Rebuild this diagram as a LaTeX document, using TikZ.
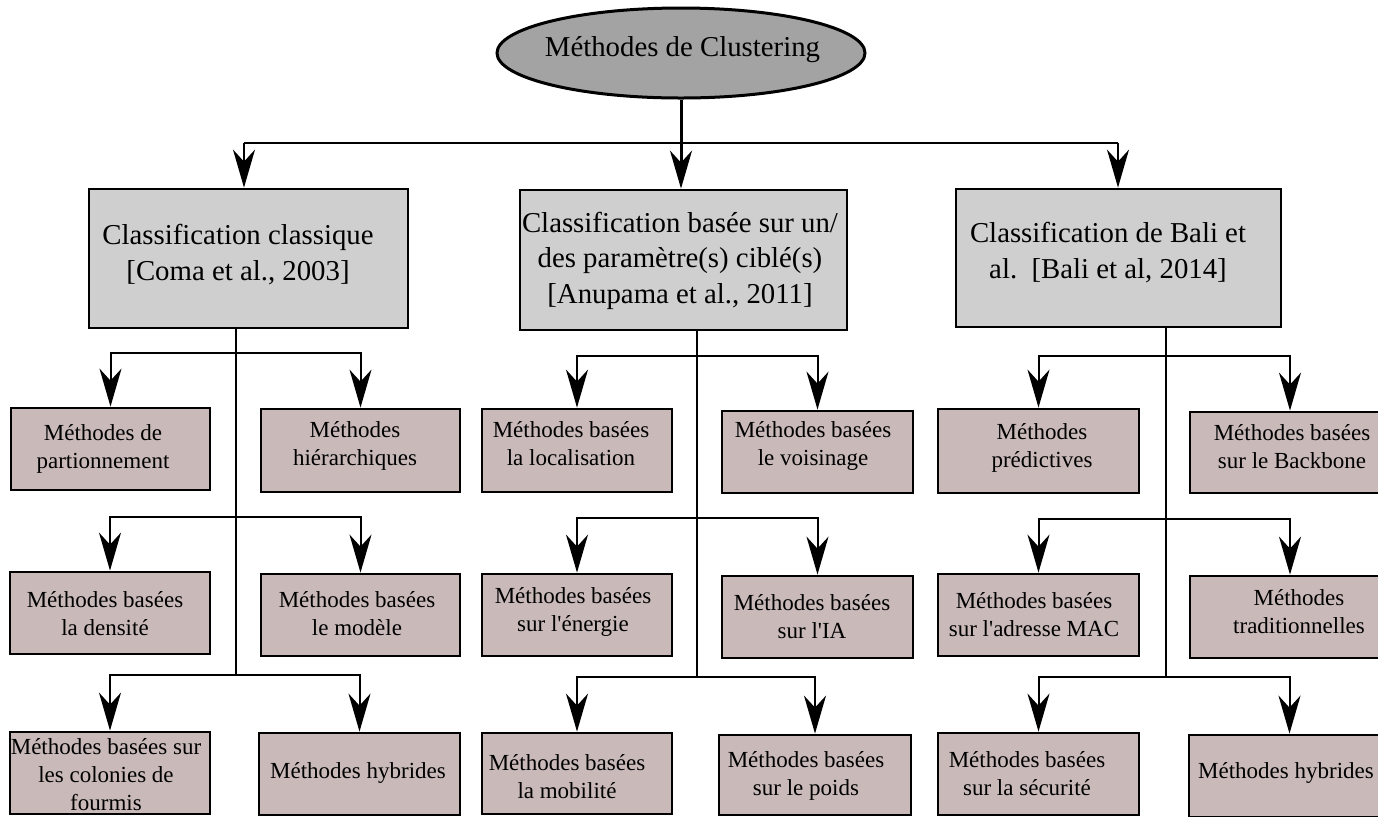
\documentclass[tikz,border=0pt]{standalone}
\usepackage{fontspec}
\setmainfont{Liberation Serif}
\usetikzlibrary{shapes.geometric,arrows.meta}
\definecolor{rootgray}{RGB}{163,163,163}
\definecolor{classgray}{RGB}{207,207,207}
\definecolor{methrose}{RGB}{201,185,185}
\begin{document}
\begin{tikzpicture}[x=0.5pt,y=-0.5pt,
  rootshape/.style={ellipse, draw, line width=1.5pt, fill=rootgray, minimum width=184pt, minimum height=45pt, inner sep=0pt},
  classbox/.style={rectangle, draw, line width=1.4pt, fill=classgray, inner sep=0pt},
  methbox/.style={rectangle, draw, line width=1.4pt, fill=methrose, inner sep=0pt},
  roottxt/.style={font=\fontsize{14.4pt}{17.7pt}\selectfont, inner sep=0pt, anchor=base},
  bigtxt/.style={font=\fontsize{14.4pt}{17.7pt}\selectfont, align=center, inner sep=0pt, anchor=base},
  smalltxt/.style={font=\fontsize{11.5pt}{14pt}\selectfont, align=center, inner sep=0pt, anchor=base},
  arr/.style={-{Stealth[length=19pt,width=11pt,inset=6pt]}, line width=1pt},
  trunk/.style={line width=1.4pt},
  branch/.style={line width=1pt},
  toprule/.style={line width=0.8pt},
]
\useasboundingbox (0,0) rectangle (1378,816);
\fill[white] (0,0) rectangle (1378,816);
\clip (0,0) rectangle (1378,816);

% root
\node[rootshape] (root) at (681,53) {};
\node[roottxt] (troot) at (682.5,56) {Méthodes de Clustering};

% three classification families (labels placed by their last baseline)
\node[classbox, minimum width=159.5pt, minimum height=69.5pt] (b1) at (248.5,258.5) {};
\node[classbox, minimum width=163.5pt, minimum height=70pt]   (b2) at (683.5,260) {};
\node[classbox, minimum width=162.5pt, minimum height=69pt]   (b3) at (1118.5,258) {};
\node[bigtxt] (tb1) at (238,280) {Classification classique\\{[}Coma et al., 2003{]}};
\node[bigtxt] (tb2) at (680,303) {Classification basée sur un/\\des paramètre(s) ciblé(s)\\{[}Anupama et al., 2011{]}};
\node[bigtxt] (tb3) at (1108,278) {Classification de Bali et\\al.~~{[}Bali et al, 2014{]}};

% methods, first family
\node[methbox, minimum width=99.5pt,  minimum height=41pt]   (p11) at (110.5,449) {};
\node[methbox, minimum width=99.5pt,  minimum height=41.5pt] (p12) at (360.5,450.5) {};
\node[methbox, minimum width=100pt,   minimum height=41pt]   (p13) at (110,613) {};
\node[methbox, minimum width=99.5pt,  minimum height=41pt]   (p14) at (360.5,615) {};
\node[methbox, minimum width=100pt,   minimum height=41pt]   (p15) at (110,773) {};
\node[methbox, minimum width=100.5pt, minimum height=41pt]   (p16) at (359.5,774) {};

% methods, second family
\node[methbox, minimum width=95pt,  minimum height=41.5pt] (q11) at (577,450.5) {};
\node[methbox, minimum width=95.5pt,minimum height=41pt]   (q12) at (817.5,452) {};
\node[methbox, minimum width=95pt,  minimum height=41pt]   (q13) at (577,615) {};
\node[methbox, minimum width=95.5pt,minimum height=41pt]   (q14) at (817.5,617) {};
\node[methbox, minimum width=95pt,  minimum height=40.5pt] (q15) at (577,773.5) {};
\node[methbox, minimum width=96pt,  minimum height=40pt]   (q16) at (815,775) {};

% methods, third family
\node[methbox, minimum width=100.5pt, minimum height=42pt]   (r11) at (1038.5,451) {};
\node[methbox, minimum width=100pt,   minimum height=40.5pt] (r12) at (1290,452.5) {};
\node[methbox, minimum width=100.5pt, minimum height=41pt]   (r13) at (1038.5,615) {};
\node[methbox, minimum width=100pt,   minimum height=41pt]   (r14) at (1290,617) {};
\node[methbox, minimum width=100.5pt, minimum height=41pt]   (r15) at (1038.5,774) {};
\node[methbox, minimum width=100.5pt, minimum height=41pt]   (r16) at (1289.5,776) {};

% labels of the methods (anchored on the last baseline)
\node[smalltxt] (tp11) at (103,468)  {Méthodes de\\partionnement};
\node[smalltxt] (tp12) at (355,465)  {Méthodes\\hiérarchiques};
\node[smalltxt] (tp13) at (105,635)  {Méthodes basées\\la densité};
\node[smalltxt] (tp14) at (357,635)  {Méthodes basées\\le modèle};
\node[smalltxt] (tp15) at (106,810)  {Méthodes basées sur\\les colonies de\\fourmis};
\node[smalltxt] (tp16) at (358,778)  {Méthodes hybrides};

\node[smalltxt] (tq11) at (571,465)  {Méthodes basées\\la localisation};
\node[smalltxt] (tq12) at (813,465)  {Méthodes basées\\le voisinage};
\node[smalltxt] (tq13) at (573,631)  {Méthodes basées\\sur l\textquotesingle énergie};
\node[smalltxt] (tq14) at (812,638)  {Méthodes basées\\sur l\textquotesingle IA};
\node[smalltxt] (tq15) at (567,798)  {Méthodes basées\\la mobilité};
\node[smalltxt] (tq16) at (806,795)  {Méthodes basées\\sur le poids};

\node[smalltxt] (tr11) at (1042,467) {Méthodes\\prédictives};
\node[smalltxt] (tr12) at (1292,468) {Méthodes basées\\sur le Backbone};
\node[smalltxt] (tr13) at (1034,636) {Méthodes basées\\sur l\textquotesingle adresse MAC};
\node[smalltxt] (tr14) at (1299,633) {Méthodes\\traditionnelles};
\node[smalltxt] (tr15) at (1027,795) {Méthodes basées\\sur la sécurité};
\node[smalltxt] (tr16) at (1286,778) {Méthodes hybrides};

% root to the three families
\coordinate (h1) at (244,143);
\coordinate (h3) at (1118,143);
\draw[toprule] (h1) -- (h3);
\draw[arr] (h1) -- (h1 |- b1.north);
\draw[arr] (h3) -- (h3 |- b3.north);
\draw[arr, line width=1.5pt] (root.south) -- (root.south |- b2.north);

% first family tree
\coordinate (k1a) at (236,353);
\coordinate (k1b) at (236,517);
\coordinate (k1c) at (236,675);
\draw[trunk] (k1c |- b1.south) -- (k1c);
\draw[arr] (k1a) -| (p11.north);
\draw[arr] (k1a) -| (p12.north);
\draw[arr] (k1b) -| (p13.north);
\draw[arr] (k1b) -| (p14.north);
\draw[arr] (k1c) -| (p15.north);
\draw[arr] (k1c) -| (p16.north);

% second family tree
\coordinate (k2a) at (697,356);
\coordinate (k2b) at (697,518);
\coordinate (k2c) at (697,677);
\draw[trunk] (k2c |- b2.south) -- (k2c);
\draw[arr] (k2a) -| (q11.north);
\draw[arr] (k2a) -| (q12.north);
\draw[arr] (k2b) -| (q13.north);
\draw[arr] (k2b) -| (q14.north);
\draw[arr] (k2c) -| (q15.north);
\draw[arr] (k2c) -| (q16.north);

% third family tree
\coordinate (k3a) at (1166,356);
\coordinate (k3b) at (1166,519);
\coordinate (k3c) at (1166,677);
\draw[trunk] (k3c |- b3.south) -- (k3c);
\draw[arr] (k3a) -| (r11.north);
\draw[arr] (k3a) -| (r12.north);
\draw[arr] (k3b) -| (r13.north);
\draw[arr] (k3b) -| (r14.north);
\draw[arr] (k3c) -| (r15.north);
\draw[arr] (k3c) -| (r16.north);
\end{tikzpicture}
\end{document}
